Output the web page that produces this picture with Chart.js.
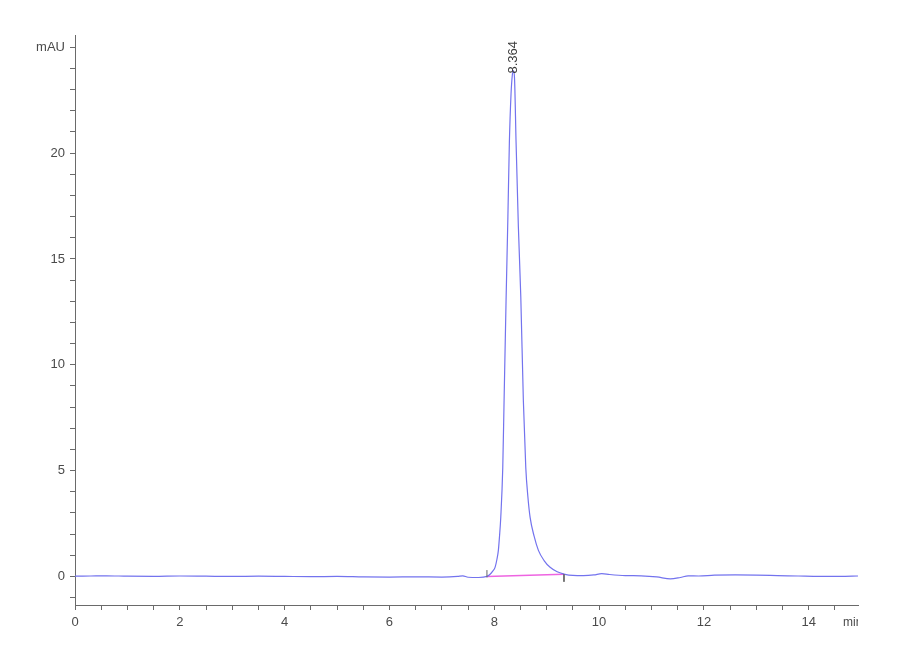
<!DOCTYPE html>
<html>
<head>
<meta charset="utf-8">
<script src="https://cdn.jsdelivr.net/npm/chart.js@4.4.1/dist/chart.umd.min.js"></script>
<style>
  html, body { margin: 0; padding: 0; background: #ffffff; }
  #wrap { width: 900px; height: 660px; }
</style>
</head>
<body>
<div id="wrap"><canvas id="c" width="900" height="660"></canvas></div>
<script>
// ---- data ----
const times = [0, 0.3, 0.6, 1.0, 1.5, 2.0, 2.5, 3.0, 3.5, 4.0, 4.5, 5.0, 5.5, 6.0, 6.5, 7.0, 7.3, 7.4, 7.5, 7.7,
  7.86, 7.92, 7.97, 8.015, 8.05, 8.078, 8.10, 8.124, 8.162, 8.187, 8.225, 8.26, 8.288, 8.32, 8.345, 8.364, 8.385,
  8.416, 8.46, 8.506, 8.555, 8.601, 8.64, 8.683, 8.76, 8.842, 8.95, 9.065, 9.2, 9.35, 9.5, 9.7, 9.9, 10.05, 10.2,
  10.5, 10.8, 11.1, 11.36, 11.55, 11.7, 11.9, 12.2, 12.6, 13.0, 13.4, 13.8, 14.2, 14.6, 14.94];
const signal = [0.01, 0.02, 0.03, 0.01, 0.0, 0.02, 0.01, 0.0, 0.01, 0.0, -0.01, 0.0, -0.02, -0.03, -0.02, -0.03, 0.0, 0.03, -0.04, -0.05,
  0.0, 0.1, 0.25, 0.43, 0.8, 1.23, 1.9, 2.8, 5.15, 8.3, 13.05, 17.0, 20.5, 22.8, 23.7, 23.9, 23.6,
  20.5, 16.5, 13.2, 8.3, 5.15, 3.8, 2.8, 1.9, 1.23, 0.75, 0.43, 0.22, 0.1, 0.05, 0.04, 0.07, 0.13, 0.09,
  0.04, 0.03, -0.02, -0.12, -0.05, 0.03, 0.02, 0.06, 0.07, 0.06, 0.04, 0.02, 0.0, 0.0, 0.02];
const baselineTimes = [7.86, 9.33];
const baselineValues = [0.0, 0.1];
const peakStartTick = [7.86, -0.05, 0.3];   // time, from, to
const peakEndTick = [9.33, 0.1, -0.25];
const peakTime = 8.364;
const peakHeight = 23.9;
const peakLabel = '8.364';
const yUnitLabel = 'mAU';
const xUnitLabel = 'min';
const xLabelTicks = [0, 2, 4, 6, 8, 10, 12, 14];
const yLabelTicks = [0, 5, 10, 15, 20];

// ---- build datasets ----
const trace = times.map((t, i) => ({ x: t, y: signal[i] }));
const base = baselineTimes.map((t, i) => ({ x: t, y: baselineValues[i] }));
const startTick = [{ x: peakStartTick[0], y: peakStartTick[1] }, { x: peakStartTick[0], y: peakStartTick[2] }];
const endTick = [{ x: peakEndTick[0], y: peakEndTick[1] }, { x: peakEndTick[0], y: peakEndTick[2] }];

const FONT = "'Liberation Sans', Arial, sans-serif";
const AXIS = '#6a6a6a';
const TXT = '#4a4a4a';

const annotate = {
  id: 'annotate',
  afterDatasetsDraw(chart) {
    const { ctx, scales: { x, y }, chartArea } = chart;
    ctx.save();
    ctx.font = '13px ' + FONT;
    ctx.fillStyle = '#3a3a3a';
    ctx.translate(x.getPixelForValue(peakTime), y.getPixelForValue(peakHeight) + 3);
    ctx.rotate(-Math.PI / 2);
    ctx.textAlign = 'left';
    ctx.textBaseline = 'middle';
    ctx.fillText(peakLabel, 0, 0);
    ctx.restore();

    ctx.save();
    ctx.beginPath();
    ctx.rect(0, 0, chartArea.right, chart.height);
    ctx.clip();
    ctx.font = '12px ' + FONT;
    ctx.fillStyle = TXT;
    ctx.textAlign = 'left';
    ctx.textBaseline = 'middle';
    ctx.fillText(xUnitLabel, chartArea.right - 15, chartArea.bottom + 18);
    ctx.restore();
  }
};

new Chart(document.getElementById('c'), {
  type: 'line',
  data: {
    datasets: [
      { data: base, borderColor: 'rgb(238,100,225)', borderWidth: 1.4, pointRadius: 0, fill: false, order: 2 },
      { data: trace, borderColor: 'rgb(115,115,238)', borderWidth: 1.2, pointRadius: 0, fill: false,
        cubicInterpolationMode: 'monotone', order: 1 },
      { data: startTick, borderColor: '#666666', borderWidth: 1, pointRadius: 0, fill: false, order: 0 },
      { data: endTick, borderColor: '#666666', borderWidth: 1, pointRadius: 0, fill: false, order: 0 }
    ]
  },
  options: {
    responsive: false,
    animation: false,
    devicePixelRatio: 1,
    layout: { padding: { top: 35, right: 42, left: 0, bottom: 0 } },
    plugins: { legend: { display: false }, tooltip: { enabled: false } },
    scales: {
      x: {
        type: 'linear',
        min: 0,
        max: 14.94,
        afterFit(s) { s.height = 55; },
        border: { display: true, color: AXIS, width: 1 },
        grid: { drawOnChartArea: false, drawTicks: true, tickLength: 5, tickColor: AXIS },
        ticks: {
          stepSize: 0.5,
          includeBounds: false,
          autoSkip: false,
          maxRotation: 0,
          padding: 5,
          color: TXT,
          font: { family: FONT, size: 13 },
          callback: v => xLabelTicks.includes(v) ? String(v) : ''
        }
      },
      y: {
        type: 'linear',
        min: -1.35,
        max: 25.58,
        afterFit(s) { s.width = 75; },
        border: { display: true, color: AXIS, width: 1 },
        grid: { drawOnChartArea: false, drawTicks: true, tickLength: 5, tickColor: AXIS },
        ticks: {
          stepSize: 1,
          includeBounds: false,
          autoSkip: false,
          padding: 5,
          color: TXT,
          font: { family: FONT, size: 13 },
          callback: v => v === 25 ? yUnitLabel : (yLabelTicks.includes(v) ? String(v) : '')
        }
      }
    }
  },
  plugins: [annotate]
});
</script>
</body>
</html>
